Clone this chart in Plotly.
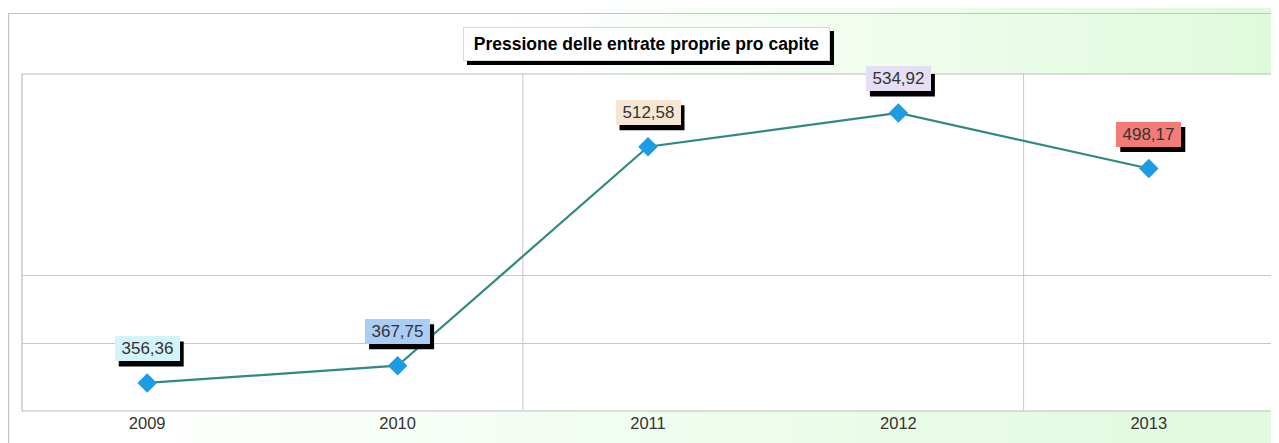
import plotly.graph_objects as go

years = ["2009", "2010", "2011", "2012", "2013"]
values = [356.36, 367.75, 512.58, 534.92, 498.17]
label_colors = ["#d2f4fb", "#a9cdf4", "#f7e7d2", "#e6def3", "#f47b78"]
title_text = "Pressione delle entrate proprie pro capite"

# page has 8px body margin; figure spans page px 8..1279
OFF = 8
W, H = 1279 - OFF, 443 - OFF
# plot area in page px: x 22..1274, y 74..411
ML, MR, MT, MB = 22 - OFF, 1279 - 1274, 74 - OFF, 443 - 411
PW, PH = W - ML - MR, H - MT - MB

def px_x(px):  # page px -> paper
    return (px - OFF - ML) / PW

def px_y(py):  # page px -> paper
    return (H - MB - (py - OFF)) / PH

y_range = [337.8, 560.7]
y_grid = [382.7, 427.6]

xs = list(range(len(years)))

fig = go.Figure()
fig.add_trace(go.Scatter(
    x=xs, y=values, mode="lines+markers",
    line=dict(color="#2f8a80", width=2.2),
    marker=dict(symbol="diamond", size=15, color="#1c9ce2",
                line=dict(width=0)),
    hoverinfo="skip", showlegend=False,
))

shapes = []
N = 60
for i in range(N):
    t0, t1 = i / N, (i + 1) / N
    tm = (t0 + t1) / 2
    f = max(0.0, (tm - 0.35) / 0.65) ** 1.2
    r = round(255 - (255 - 222) * f)
    g = round(255 - (255 - 250) * f)
    b = round(255 - (255 - 218) * f)
    shapes.append(dict(type="rect", xref="paper", yref="paper", layer="below",
                       x0=px_x(OFF + t0 * W), x1=px_x(OFF + t1 * W + 1),
                       y0=px_y(443), y1=px_y(OFF),
                       fillcolor=f"rgb({r},{g},{b})", line=dict(width=0)))
for i in range(N):
    t0, t1 = i / N, (i + 1) / N
    tm = (t0 + t1) / 2
    f = min(1.0, max(0.0, (tm - 0.1) / 0.8))
    r = round(255 - (255 - 226) * f)
    g = round(255 - (255 - 250) * f)
    b = round(255 - (255 - 224) * f)
    shapes.append(dict(type="rect", xref="paper", yref="paper", layer="below",
                       x0=px_x(OFF + t0 * W), x1=px_x(OFF + t1 * W + 1),
                       y0=px_y(443), y1=px_y(411),
                       fillcolor=f"rgb({r},{g},{b})", line=dict(width=0)))
# outer frame
shapes.append(dict(type="rect", xref="paper", yref="paper", layer="below",
                   x0=px_x(8.6), x1=px_x(1290), y0=px_y(460), y1=px_y(13.5),
                   fillcolor="rgba(0,0,0,0)", line=dict(color="#c4c4c4", width=1.2)))
# plot area
shapes.append(dict(type="rect", xref="paper", yref="paper", layer="below",
                   x0=0, x1=1, y0=0, y1=1,
                   fillcolor="white", line=dict(color="#bdbdbd", width=1.2)))
for xv in [1.5, 3.5]:
    shapes.append(dict(type="line", xref="x", yref="paper", layer="below",
                       x0=xv, x1=xv, y0=0, y1=1,
                       line=dict(color="#c8c8c8", width=1)))

font_fam = "Liberation Sans, Arial, sans-serif"
annotations = []

# title box (page px x 463..830, y 27..61) with shadow
TW, TH = 367, 34
tcx, tcy = (463 + 830) / 2, (27 + 61) / 2
SX, SY = 4, 4
shapes.append(dict(type="rect", xref="paper", yref="paper", layer="above",
                   x0=px_x(tcx - TW / 2 + SX), x1=px_x(tcx + TW / 2 + SX),
                   y0=px_y(tcy + TH / 2 + SY), y1=px_y(tcy - TH / 2 + SY),
                   fillcolor="black", line=dict(width=0)))
annotations.append(dict(text="<b>" + title_text + "</b>", xref="paper", yref="paper",
                        x=px_x(tcx), y=px_y(tcy), xanchor="center", yanchor="middle",
                        showarrow=False, width=TW - 2, height=TH - 2,
                        font=dict(family=font_fam, size=17.5, color="black"),
                        bgcolor="white", borderpad=0, borderwidth=1, bordercolor="#d8d8d8"))

# value labels with shadow
LW, LH, LSHIFT = 65, 25, 34
for xv, v, c in zip(xs, values, label_colors):
    txt = f"{v:.2f}".replace(".", ",")
    shapes.append(dict(type="rect", xref="x", yref="y", layer="above",
                       xsizemode="pixel", ysizemode="pixel",
                       xanchor=xv, yanchor=v,
                       x0=-LW / 2 + SX, x1=LW / 2 + SX,
                       y0=LSHIFT - LH / 2 - 5, y1=LSHIFT + LH / 2 - 5,
                       fillcolor="black", line=dict(width=0)))
    annotations.append(dict(text=txt, x=xv, y=v, xref="x", yref="y",
                            xanchor="center", yanchor="middle",
                            showarrow=False, yshift=LSHIFT,
                            width=LW, height=LH,
                            font=dict(family=font_fam, size=17, color="#333333"),
                            bgcolor=c, borderpad=0, borderwidth=0))

fig.update_layout(
    width=W, height=H,
    margin=dict(l=ML, r=MR, t=MT, b=MB, pad=0),
    paper_bgcolor="white", plot_bgcolor="rgba(0,0,0,0)",
    shapes=shapes, annotations=annotations,
    xaxis=dict(range=[-0.5, 4.5], tickvals=xs, ticktext=years, showgrid=False,
               zeroline=False, showline=False, ticks="", fixedrange=True,
               tickfont=dict(family=font_fam, size=16.5, color="#333333")),
    yaxis=dict(range=y_range, tickvals=y_grid, showticklabels=False, showgrid=True,
               gridcolor="#c8c8c8", gridwidth=1, zeroline=False, showline=False,
               fixedrange=True),
    showlegend=False,
)

fig.write_html("out.html", config={"displayModeBar": False})
